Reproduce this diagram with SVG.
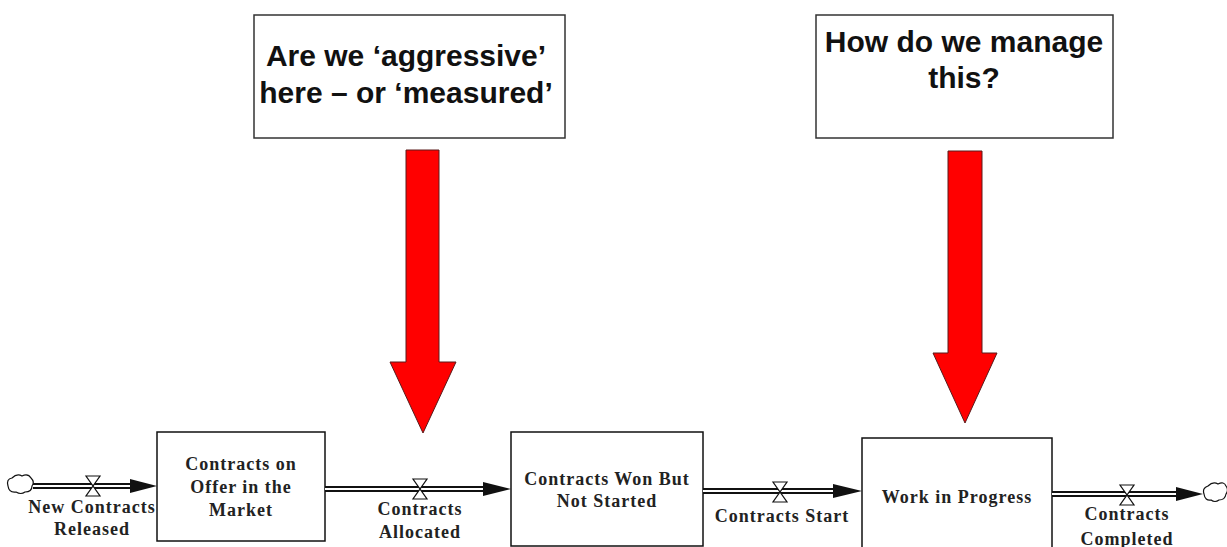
<svg xmlns="http://www.w3.org/2000/svg" width="1227" height="547" viewBox="0 0 1227 547">
  <style>
    .note { fill: #ffffff; stroke: #333333; stroke-width: 1.5; }
    .note-text { font-family: "Liberation Sans", Arial, sans-serif; font-weight: bold; font-size: 30px; fill: #111111; text-anchor: middle; }
    .big-arrow { fill: #ff0000; stroke: #5a1a1a; stroke-width: 1; }
    .stock { fill: #ffffff; stroke: #111111; stroke-width: 1.5; }
    .label { font-family: "Liberation Serif", "Times New Roman", serif; font-weight: bold; font-size: 18px; letter-spacing: 1px; fill: #222222; text-anchor: middle; }
    .pipe-outer { stroke: #111111; stroke-width: 6; fill: none; }
    .pipe-inner { stroke: #ffffff; stroke-width: 2; fill: none; }
    .head { fill: #111111; }
    .valve { fill: #ffffff; stroke: #111111; stroke-width: 1.2; }
    .cloud { fill: #ffffff; stroke: #111111; stroke-width: 1.2; }
  </style>

  <!-- question boxes -->
  <g id="note-aggressive">
    <rect class="note" x="254" y="15" width="311" height="123"/>
    <text class="note-text" x="406" y="66">Are we ‘aggressive’</text>
    <text class="note-text" x="406" y="103">here – or ‘measured’</text>
  </g>
  <g id="note-manage">
    <rect class="note" x="816" y="15" width="297" height="123"/>
    <text class="note-text" x="964" y="52">How do we manage</text>
    <text class="note-text" x="964" y="88">this?</text>
  </g>

  <!-- red pointer arrows -->
  <g id="pointer-allocated">
    <polygon class="big-arrow" points="406,150 439,150 439,362 456,362 423,433 390,362 406,362"/>
  </g>
  <g id="pointer-wip">
    <polygon class="big-arrow" points="948,151 982,151 982,353 997,353 965,423 933,353 948,353"/>
  </g>

  <!-- stocks -->
  <g id="stock-offer">
    <rect class="stock" x="157" y="432" width="168" height="109"/>
    <text class="label" x="241" y="470">Contracts on</text>
    <text class="label" x="241" y="493">Offer in the</text>
    <text class="label" x="241" y="516">Market</text>
  </g>
  <g id="stock-won">
    <rect class="stock" x="511" y="432" width="192" height="114"/>
    <text class="label" x="607" y="485">Contracts Won But</text>
    <text class="label" x="607" y="507">Not Started</text>
  </g>
  <g id="stock-wip">
    <rect class="stock" x="862" y="438" width="190" height="115"/>
    <text class="label" x="957" y="503">Work in Progress</text>
  </g>

  <!-- flows: pipes, valves, arrowheads, clouds -->
  <g id="connectors">
    <!-- New Contracts Released -->
    <line class="pipe-outer" x1="33" y1="486" x2="134" y2="486"/>
    <line class="pipe-inner" x1="33" y1="486" x2="134" y2="486"/>
    <polygon class="head" points="130,479 157,486 130,493"/>
    <path class="cloud" d="M12,478 q5,-5 10,-2 q6,-3 9,2 q4,4 1,8 q0,6 -7,6 q-4,3 -9,0 q-7,1 -8,-6 q-2,-7 4,-8 z"/>
    <path class="valve" d="M86,476 L100,476 L86,496 L100,496 Z"/>

    <!-- Contracts Allocated -->
    <line class="pipe-outer" x1="325" y1="489" x2="487" y2="489"/>
    <line class="pipe-inner" x1="325" y1="489" x2="487" y2="489"/>
    <polygon class="head" points="483,482 511,489 483,496"/>
    <path class="valve" d="M413,479 L427,479 L413,499 L427,499 Z"/>

    <!-- Contracts Start -->
    <line class="pipe-outer" x1="703" y1="491" x2="837" y2="491"/>
    <line class="pipe-inner" x1="703" y1="491" x2="837" y2="491"/>
    <polygon class="head" points="833,484 862,491 833,498"/>
    <path class="valve" d="M773,482 L787,482 L773,502 L787,502 Z"/>

    <!-- Contracts Completed -->
    <line class="pipe-outer" x1="1052" y1="494" x2="1180" y2="494"/>
    <line class="pipe-inner" x1="1052" y1="494" x2="1180" y2="494"/>
    <polygon class="head" points="1176,487 1203,494 1176,501"/>
    <path class="cloud" d="M1208,486 q5,-5 10,-2 q6,-3 8,2 q3,4 0,8 q-1,6 -7,6 q-4,3 -8,0 q-6,1 -7,-6 q-2,-6 4,-8 z"/>
    <path class="valve" d="M1120,485 L1134,485 L1120,505 L1134,505 Z"/>
  </g>

  <!-- flow labels -->
  <g id="flow-new-released">
    <text class="label" x="92" y="513">New Contracts</text>
    <text class="label" x="92" y="535">Released</text>
  </g>
  <g id="flow-allocated">
    <text class="label" x="420" y="515">Contracts</text>
    <text class="label" x="420" y="538">Allocated</text>
  </g>
  <g id="flow-start">
    <text class="label" x="782" y="522">Contracts Start</text>
  </g>
  <g id="flow-completed">
    <text class="label" x="1127" y="520">Contracts</text>
    <text class="label" x="1127" y="545">Completed</text>
  </g>
</svg>
